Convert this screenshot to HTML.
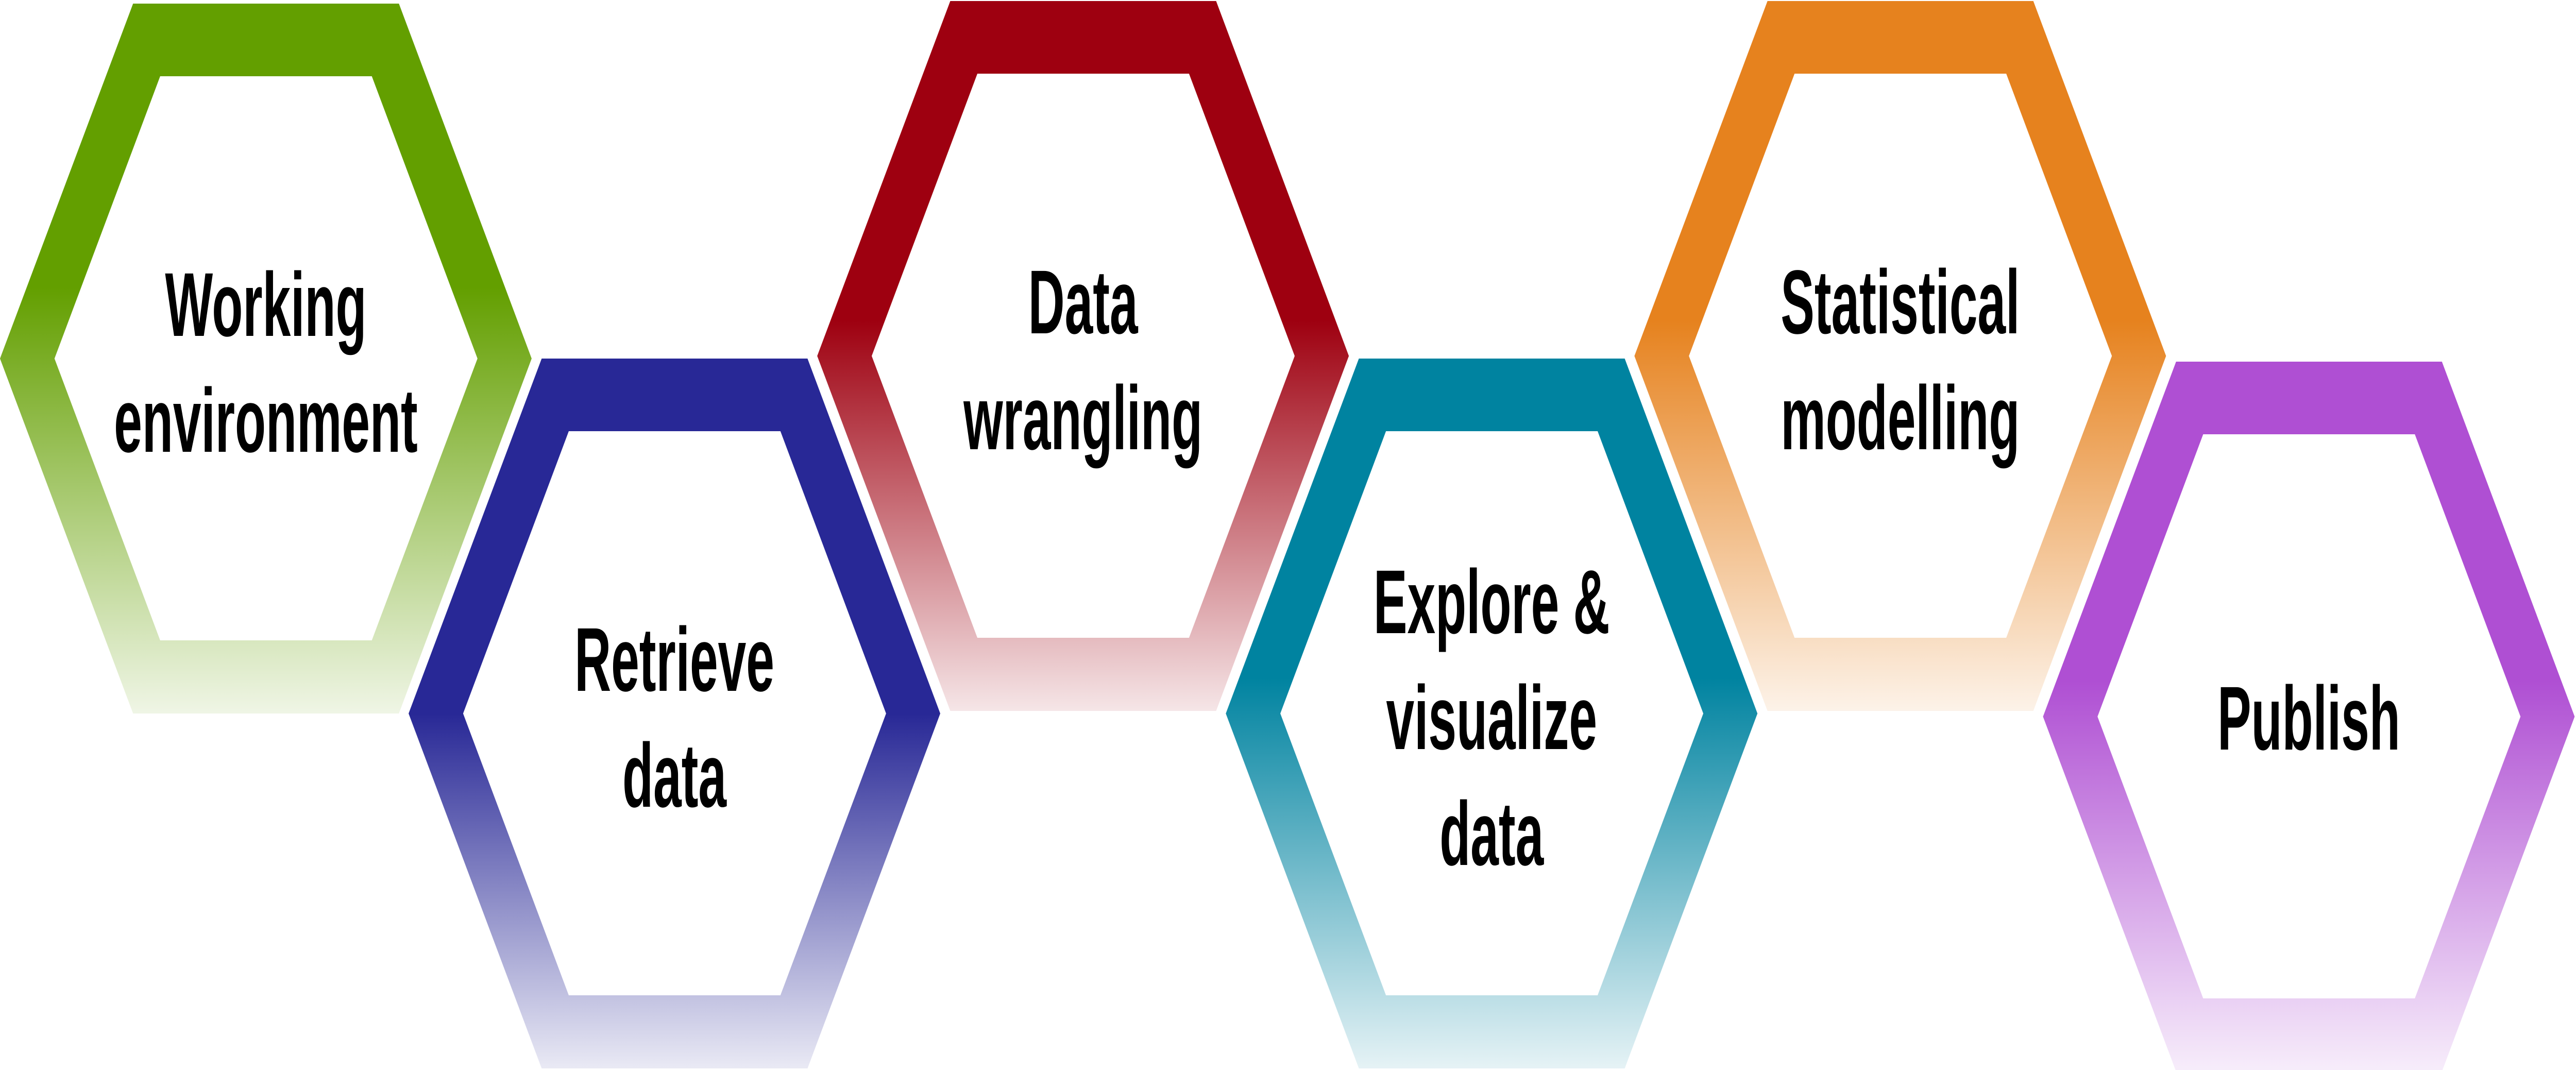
<!DOCTYPE html>
<html><head><style>
html,body{margin:0;padding:0;background:#fff;width:100%;height:100%;overflow:hidden;}
svg{display:block;width:100vw;height:100vh;}
text{font-family:"Liberation Sans Narrow","Liberation Sans",sans-serif;font-weight:bold;font-size:176px;fill:#000;text-anchor:middle;}
</style></head><body>
<svg viewBox="0 0 7704 2077" preserveAspectRatio="none" xmlns="http://www.w3.org/2000/svg">
<defs>
<linearGradient id="g1" x1="0" y1="0" x2="0" y2="1"><stop offset="0.4" stop-color="#639f00"/><stop offset="1" stop-color="#639f00" stop-opacity="0.1"/></linearGradient>
<linearGradient id="g2" x1="0" y1="0" x2="0" y2="1"><stop offset="0.5" stop-color="#282896"/><stop offset="1" stop-color="#282896" stop-opacity="0.1"/></linearGradient>
<linearGradient id="g3" x1="0" y1="0" x2="0" y2="1"><stop offset="0.45" stop-color="#9e0010"/><stop offset="1" stop-color="#9e0010" stop-opacity="0.1"/></linearGradient>
<linearGradient id="g4" x1="0" y1="0" x2="0" y2="1"><stop offset="0.45" stop-color="#0083a0"/><stop offset="1" stop-color="#0083a0" stop-opacity="0.1"/></linearGradient>
<linearGradient id="g5" x1="0" y1="0" x2="0" y2="1"><stop offset="0.45" stop-color="#e6821e"/><stop offset="1" stop-color="#e6821e" stop-opacity="0.1"/></linearGradient>
<linearGradient id="g6" x1="0" y1="0" x2="0" y2="1"><stop offset="0.45" stop-color="#af4fd3"/><stop offset="1" stop-color="#af4fd3" stop-opacity="0.1"/></linearGradient>
<path id="hex" fill-rule="evenodd" d="M398,7 L1193,7 L1590,696 L1193,1385 L398,1385 L0,696 Z M479,148 L1112,148 L1428,696 L1112,1243 L479,1243 L163,696 Z"/>
</defs>
<g transform="translate(0,0)"><use href="#hex" fill="url(#g1)"/>
<g transform="translate(795,0) scale(0.86,1) translate(-795,0)"><text x="795" y="652">Working</text><text x="795" y="877">environment</text></g></g>
<g transform="translate(1222,689)"><use href="#hex" fill="url(#g2)"/>
<g transform="translate(795,0) scale(0.86,1) translate(-795,0)"><text x="795" y="652">Retrieve</text><text x="795" y="877">data</text></g></g>
<g transform="translate(2444,-5)"><use href="#hex" fill="url(#g3)"/>
<g transform="translate(795,0) scale(0.86,1) translate(-795,0)"><text x="795" y="652">Data</text><text x="795" y="877">wrangling</text></g></g>
<g transform="translate(3666,689)"><use href="#hex" fill="url(#g4)"/>
<g transform="translate(795,0) scale(0.86,1) translate(-795,0)"><text x="795" y="540">Explore &amp;</text><text x="795" y="765">visualize</text><text x="795" y="990">data</text></g></g>
<g transform="translate(4888,-5)"><use href="#hex" fill="url(#g5)"/>
<g transform="translate(795,0) scale(0.86,1) translate(-795,0)"><text x="795" y="652">Statistical</text><text x="795" y="877">modelling</text></g></g>
<g transform="translate(6110,695)"><use href="#hex" fill="url(#g6)"/>
<g transform="translate(795,0) scale(0.86,1) translate(-795,0)"><text x="795" y="760">Publish</text></g></g>
</svg>
</body></html>
